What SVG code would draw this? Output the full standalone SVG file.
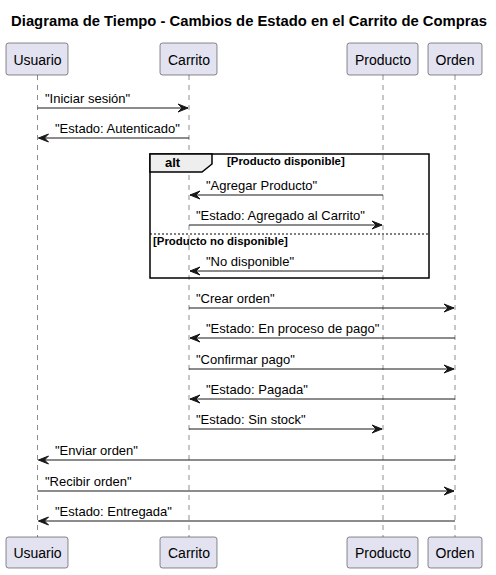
<svg xmlns="http://www.w3.org/2000/svg" width="496" height="575" viewBox="0 0 496 575">
<style>
text{font-family:"Liberation Sans",Arial,sans-serif;fill:#000}
.title{font-size:14.8px;font-weight:bold}
.p rect{fill:#E2E2F0;stroke:#181818;stroke-width:0.5}
.p text{font-size:14px;text-anchor:middle}
.life{stroke:#181818;stroke-width:0.5;stroke-dasharray:5,5;fill:none}
.msg line{stroke:#181818;stroke-width:1}
.msg text{font-size:13px}
.ah{fill:#181818;stroke:#181818;stroke-width:1}
.frame{fill:none;stroke:#000;stroke-width:1.5}
.tab{fill:#EEEEEE;stroke:#000;stroke-width:1.5}
.bold{font-weight:bold}
.guard{font-size:11.4px;font-weight:bold}
</style>
<defs>
<marker id="arr" viewBox="0 0 12 10" refX="10" refY="5" markerWidth="12" markerHeight="10" markerUnits="userSpaceOnUse" orient="auto">
<polygon points="0,1 10,5 0,9 4,5" class="ah"/>
</marker>
</defs>
<text class="title" x="249" y="26" text-anchor="middle">Diagrama de Tiempo - Cambios de Estado en el Carrito de Compras</text>
<g id="lifelines">
<line class="life" x1="37.5" y1="75" x2="37.5" y2="537"/>
<line class="life" x1="189" y1="75" x2="189" y2="537"/>
<line class="life" x1="383" y1="75" x2="383" y2="537"/>
<line class="life" x1="455" y1="75" x2="455" y2="537"/>
</g>
<g id="alt">
<rect class="frame" x="150" y="154" width="279" height="124"/>
<path class="tab" d="M150,154 H212 V164 L202,172 H150 Z"/>
<text class="bold" x="165" y="167" font-size="13">alt</text>
<text class="guard" x="227" y="165">[Producto disponible]</text>
<line x1="150" y1="234" x2="429" y2="234" stroke="#000" stroke-width="1" stroke-dasharray="2,2"/>
<text class="guard" x="153" y="245">[Producto no disponible]</text>
</g>
<g id="Usuario" class="p">
<rect x="6" y="43" width="62" height="32" rx="2.5"/><text x="37.5" y="65">Usuario</text>
<rect x="6" y="537" width="62" height="31" rx="2.5"/><text x="37.5" y="558">Usuario</text>
</g>
<g id="Carrito" class="p">
<rect x="160" y="43" width="57" height="32" rx="2.5"/><text x="189" y="65">Carrito</text>
<rect x="160" y="537" width="57" height="31" rx="2.5"/><text x="189" y="558">Carrito</text>
</g>
<g id="Producto" class="p">
<rect x="347" y="43" width="71" height="32" rx="2.5"/><text x="383" y="65">Producto</text>
<rect x="347" y="537" width="71" height="31" rx="2.5"/><text x="383" y="558">Producto</text>
</g>
<g id="Orden" class="p">
<rect x="428" y="43" width="54" height="32" rx="2.5"/><text x="455" y="65">Orden</text>
<rect x="428" y="537" width="54" height="31" rx="2.5"/><text x="455" y="558">Orden</text>
</g>
<g id="connectors" class="msg">
<line x1="37.5" y1="108" x2="188" y2="108" marker-end="url(#arr)"/><text x="45" y="103">"Iniciar sesión"</text>
<line x1="189" y1="138" x2="38.5" y2="138" marker-end="url(#arr)"/><text x="55" y="133">"Estado: Autenticado"</text>
<line x1="383" y1="195" x2="190" y2="195" marker-end="url(#arr)"/><text x="206" y="190">"Agregar Producto"</text>
<line x1="189" y1="225" x2="382" y2="225" marker-end="url(#arr)"/><text x="196" y="220">"Estado: Agregado al Carrito"</text>
<line x1="383" y1="271" x2="190" y2="271" marker-end="url(#arr)"/><text x="206" y="266">"No disponible"</text>
<line x1="189" y1="308" x2="454" y2="308" marker-end="url(#arr)"/><text x="196" y="303">"Crear orden"</text>
<line x1="455" y1="338" x2="190" y2="338" marker-end="url(#arr)"/><text x="206" y="333">"Estado: En proceso de pago"</text>
<line x1="189" y1="369" x2="454" y2="369" marker-end="url(#arr)"/><text x="196" y="364">"Confirmar pago"</text>
<line x1="455" y1="399" x2="190" y2="399" marker-end="url(#arr)"/><text x="206" y="394">"Estado: Pagada"</text>
<line x1="189" y1="429" x2="382" y2="429" marker-end="url(#arr)"/><text x="196" y="424">"Estado: Sin stock"</text>
<line x1="455" y1="460" x2="38.5" y2="460" marker-end="url(#arr)"/><text x="55" y="455">"Enviar orden"</text>
<line x1="37.5" y1="491" x2="454" y2="491" marker-end="url(#arr)"/><text x="45" y="486">"Recibir orden"</text>
<line x1="455" y1="521" x2="38.5" y2="521" marker-end="url(#arr)"/><text x="55" y="516">"Estado: Entregada"</text>
</g>
</svg>
